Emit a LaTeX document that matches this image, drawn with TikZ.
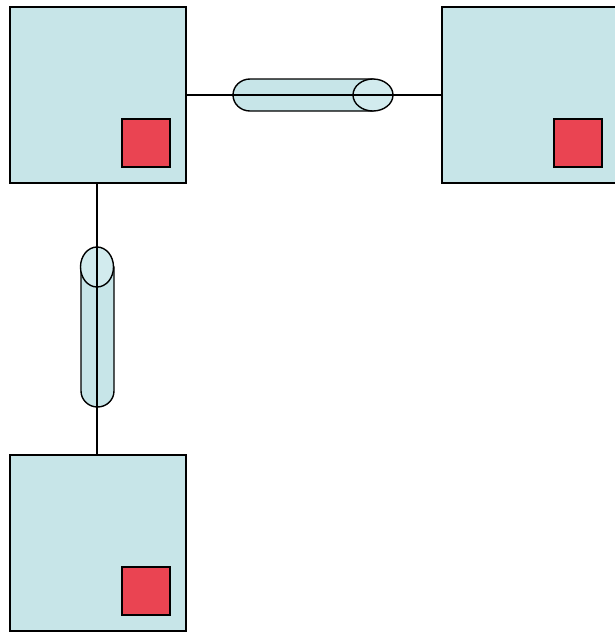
\documentclass[tikz,border=0pt]{standalone}
\definecolor{boxfill}{HTML}{C7E5E8}
\definecolor{capfill}{HTML}{D2EBEE}
\definecolor{redfill}{HTML}{EA4452}
\begin{document}
\begin{tikzpicture}[x=1pt,y=1pt,
  bigbox/.style={draw=black,fill=boxfill,line width=1.5pt,minimum size=176pt,inner sep=0pt,anchor=center},
  redbox/.style={draw=black,fill=redfill,line width=1.5pt,minimum size=48pt,inner sep=0pt},
  wire/.style={draw=black,line width=1.4pt},
  cylbody/.style={draw=black,fill=boxfill,line width=1.4pt},
  cylcap/.style={draw=black,fill=capfill,line width=1.4pt}]
\useasboundingbox (0,0) rectangle (614,-632);
\node[bigbox] (b1) at (98,-95) {};
\node[bigbox] (b2) at (530,-95) {};
\node[bigbox] (b3) at (98,-543) {};
\node[redbox] (r1) at (146,-143) {};
\node[redbox] (r2) at (578,-143) {};
\node[redbox] (r3) at (146,-591) {};
% horizontal cylinder
\coordinate (hc) at (373,-95);
\path[cylbody] (373,-79) -- (250,-79) arc[start angle=90,end angle=270,x radius=17,y radius=16] -- (373,-111) -- cycle;
\path[cylcap] (hc) ellipse[x radius=20,y radius=16];
% vertical cylinder
\coordinate (vc) at (97,-267);
\path[cylbody] (81,-267) -- (81,-391) arc[start angle=180,end angle=360,x radius=16.5,y radius=16] -- (114,-267) -- cycle;
\path[cylcap] (vc) ellipse[x radius=16.5,y radius=20];
% connectors
\draw[wire] (b1.east) -- (b2.west);
\draw[wire] (b1.south -| vc) -- (b3.north -| vc);
\end{tikzpicture}
\end{document}
